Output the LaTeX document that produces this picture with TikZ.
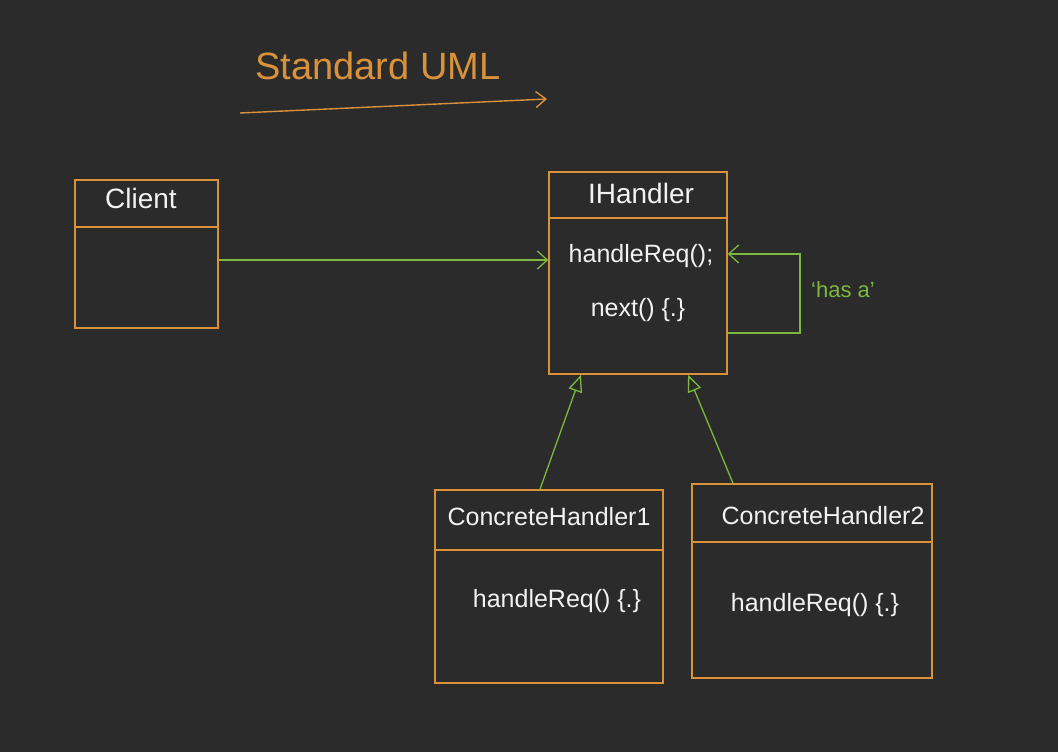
\documentclass[tikz,border=0pt]{standalone}
\usepackage{fontspec}
\setmainfont{Liberation Sans}
\usetikzlibrary{arrows.meta}
\definecolor{bg}{HTML}{2B2B2B}
\definecolor{org}{HTML}{D9923A}
\definecolor{grn}{HTML}{7DB83E}
\definecolor{ink}{HTML}{F2F2F2}
\begin{document}
\begin{tikzpicture}[x=1pt,y=-1pt,
  cls/.style={draw=org,line width=1.5pt,rectangle,inner sep=0pt},
  lbl/.style={text=ink,font=\fontsize{25}{28}\selectfont},
  divider/.style={draw=org,line width=1.5pt},
  assoc/.style={draw=grn,line width=1.3pt,-{Straight Barb[length=10pt,width=18pt]}},
  gen/.style={draw=grn,line width=1.3pt,-{Triangle[open,length=17pt,width=14pt]}}]
\fill[bg] (0,0) rectangle (1058,752);
\useasboundingbox (0,0) rectangle (1058,752);
% title
\node[text=org,font=\fontsize{38}{42}\selectfont] (title) at (378,66) {Standard UML};
\coordinate (tA) at (240,113);
\coordinate (tB) at (547,99);
\draw[draw=org,line width=1.4pt,-{Straight Barb[length=10pt,width=16pt]}] (tA) -- (tB);
% classes
\node[cls,minimum width=143pt,minimum height=148pt] (client) at (146.5,254) {};
\node[cls,minimum width=178pt,minimum height=202pt] (ih) at (638,273) {};
\node[cls,minimum width=228pt,minimum height=193pt] (ch1) at (549,586.5) {};
\node[cls,minimum width=240pt,minimum height=194pt] (ch2) at (812,581) {};
% dividers
\draw[divider] (client.west |- 0,227) -- (client.east |- 0,227);
\draw[divider] (ih.west |- 0,218) -- (ih.east |- 0,218);
\draw[divider] (ch1.west |- 0,550) -- (ch1.east |- 0,550);
\draw[divider] (ch2.west |- 0,542) -- (ch2.east |- 0,542);
% texts
\node[lbl,font=\fontsize{28}{30}\selectfont] (tclient) at (141,198) {Client};
\node[lbl,font=\fontsize{28}{30}\selectfont] (tih) at (641,193) {IHandler};
\node[lbl] (tih1) at (641,256) {handleReq();};
\node[lbl] (tih2) at (638,310) {next() \{.\}};
\node[lbl] (tch1) at (549,517) {ConcreteHandler1};
\node[lbl] (tch1m) at (557,601) {handleReq() \{.\}};
\node[lbl] (tch2) at (823,516) {ConcreteHandler2};
\node[lbl] (tch2m) at (815,605) {handleReq() \{.\}};
% association client -> IHandler
\draw[assoc] (client.east |- 0,260) -- (ih.west |- 0,260);
% self loop "has a"
\coordinate (loopA) at (800,333);
\coordinate (loopB) at (800,254);
\draw[assoc] (ih.east |- loopA) -- (loopA) -- (loopB) -- (ih.east |- loopB);
\node[text=grn,font=\fontsize{22}{24}\selectfont] (hasa) at (843,290) {`has a'};
% generalizations
\draw[gen] ([xshift=-9pt]ch1.north) -- ([xshift=-57pt]ih.south);
\draw[gen] ([xshift=-79pt]ch2.north) -- ([xshift=50pt]ih.south);
\end{tikzpicture}
\end{document}
